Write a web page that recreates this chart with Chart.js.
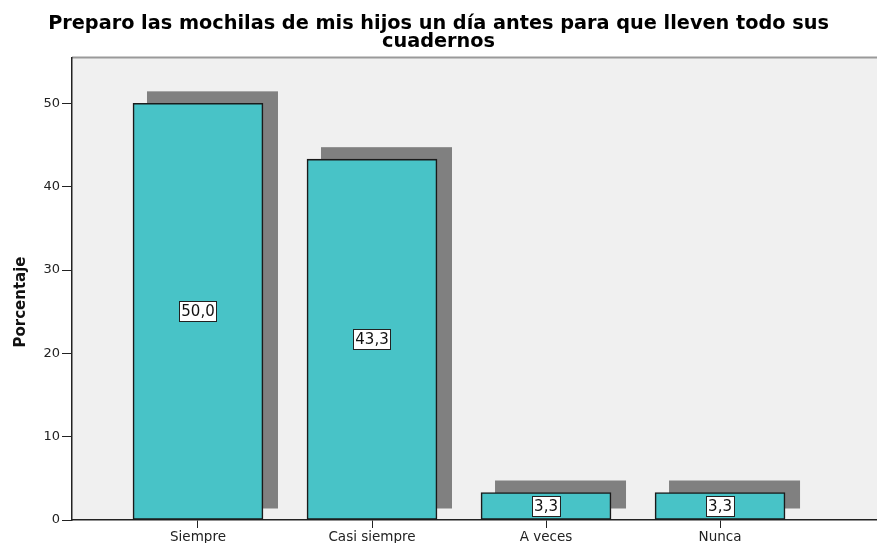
<!DOCTYPE html>
<html>
<head>
<meta charset="utf-8">
<script src="https://cdn.jsdelivr.net/npm/chart.js@4"></script>
<style>
  html, body { margin: 0; padding: 0; background: #fff; }
  #wrap { width: 877px; height: 543px; }
</style>
</head>
<body>
<div id="wrap"><canvas id="grafico" width="877" height="543"></canvas></div>
<script>
// datos
const categorias = ['Siempre', 'Casi siempre', 'A veces', 'Nunca']
const porcentajes = [50.0, 43.3, 3.3, 3.3]
const ticksY = [0, 10, 20, 30, 40, 50]

const titulo = ['Preparo las mochilas de mis hijos un día antes para que lleven todo sus', 'cuadernos']
const tituloY = 'Porcentaje'

const fuente = 'DejaVu Sans'

/** fondo gris del area del grafico */
const fondoPlugin = {
    id: 'fondo',
    beforeDraw(chart) {
        const { ctx, chartArea: a } = chart
        ctx.save()
        ctx.fillStyle = '#f0f0f0'
        ctx.fillRect(a.left, a.top, a.right - a.left, a.bottom - a.top)
        ctx.strokeStyle = '#9a9a9a'
        ctx.lineWidth = 2
        ctx.beginPath()
        ctx.moveTo(a.left, a.top)
        ctx.lineTo(a.right, a.top)
        ctx.stroke()
        ctx.restore()
    }
}

/** sombra gris detras de cada barra */
const sombraPlugin = {
    id: 'sombra',
    beforeDatasetsDraw(chart) {
        const { ctx } = chart
        const meta = chart.getDatasetMeta(0)
        ctx.save()
        ctx.fillStyle = '#808080'
        meta.data.forEach(barra => {
            const w = barra.width
            ctx.fillRect(barra.x - w / 2 + 14, barra.y - 12, w + 1, barra.base - barra.y + 1)
        })
        ctx.restore()
    }
}

/** etiquetas con caja blanca en el centro de la barra */
const etiquetasPlugin = {
    id: 'etiquetas',
    afterDatasetsDraw(chart) {
        const { ctx } = chart
        const meta = chart.getDatasetMeta(0)
        ctx.save()
        ctx.font = '15px "' + fuente + '"'
        ctx.textAlign = 'center'
        ctx.textBaseline = 'middle'
        meta.data.forEach((barra, i) => {
            const texto = porcentajes[i].toFixed(1).replace('.', ',')
            const cy = (barra.y + barra.base) / 2
            const w = ctx.measureText(texto).width + 4
            const h = 20
            ctx.fillStyle = '#ffffff'
            ctx.fillRect(barra.x - w / 2, cy - h / 2, w, h)
            ctx.strokeStyle = '#222'
            ctx.lineWidth = 1
            ctx.strokeRect(Math.round(barra.x - w / 2) + 0.5, Math.round(cy - h / 2) + 0.5, Math.round(w), h)
            ctx.fillStyle = '#111'
            ctx.fillText(texto, barra.x, cy + 1)
        })
        ctx.restore()
    }
}

/** titulo del eje Y */
const tituloYPlugin = {
    id: 'tituloY',
    afterDraw(chart) {
        const { ctx } = chart
        ctx.save()
        ctx.translate(21, 302)
        ctx.rotate(-Math.PI / 2)
        ctx.font = 'bold 15px "' + fuente + '"'
        ctx.fillStyle = '#111'
        ctx.textAlign = 'center'
        ctx.textBaseline = 'middle'
        ctx.fillText(tituloY, 0, 0)
        ctx.restore()
    }
}

const ctx = document.getElementById('grafico').getContext('2d')
const grafico = new Chart(ctx, {
    type: 'bar',
    data: {
        datasets: [{
            data: porcentajes.map((v, i) => ({ x: i, y: v })),
            backgroundColor: '#48c3c7',
            borderColor: '#1a1a1a',
            borderWidth: 1.6,
            borderSkipped: false,
            barThickness: 130
        }]
    },
    options: {
        responsive: false,
        animation: false,
        layout: { padding: 0 },
        plugins: {
            legend: { display: false },
            tooltip: { enabled: false },
            title: {
                display: true,
                text: titulo,
                color: '#000',
                font: { family: fuente, size: 19.3, weight: 'bold', lineHeight: 0.92 },
                padding: { top: 15, bottom: 7 }
            }
        },
        scales: {
            x: {
                type: 'linear',
                offset: false,
                min: -0.724,
                max: 3.902,
                afterFit: (s) => { s.height = 23 },
                border: { color: '#222', width: 1.5 },
                grid: { offset: false, drawOnChartArea: false, drawTicks: true, tickLength: 8, color: '#222' },
                ticks: {
                    stepSize: 1,
                    includeBounds: false,
                    autoSkip: false,
                    maxRotation: 0,
                    padding: 1,
                    color: '#222',
                    font: { family: fuente, size: 13.5 },
                    callback: (v) => categorias[v] ?? ''
                }
            },
            y: {
                min: 0,
                max: 55.5,
                afterFit: (s) => { s.width = 72 },
                afterBuildTicks: (s) => { s.ticks = ticksY.map(v => ({ value: v })) },
                border: { color: '#222', width: 1.5 },
                grid: { drawOnChartArea: false, drawTicks: true, tickLength: 10, color: '#222' },
                ticks: {
                    padding: 2,
                    color: '#222',
                    font: { family: fuente, size: 13 }
                }
            }
        }
    },
    plugins: [fondoPlugin, sombraPlugin, etiquetasPlugin, tituloYPlugin]
})
</script>
</body>
</html>
